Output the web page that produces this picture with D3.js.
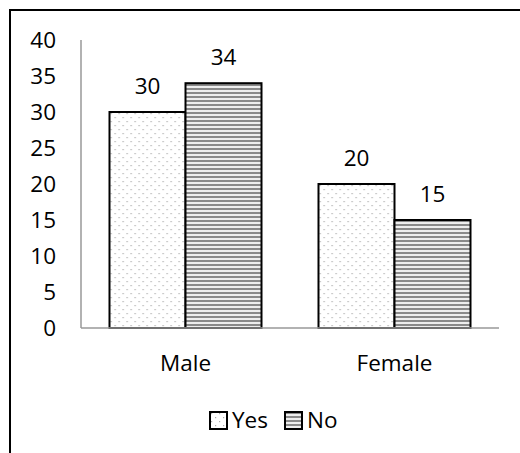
<!DOCTYPE html>
<html><head><meta charset="utf-8">
<script src="https://cdn.jsdelivr.net/npm/d3@7"></script>
<style>body{margin:0;background:#fff}svg{display:block}text{font-family:"Open Sans",Lato,sans-serif;fill:#000}</style>
</head><body><svg id="c" width="520" height="453"></svg>
<script>
const categories = ["Male", "Female"];
const seriesNames = ["Yes", "No"];
const yesValues = [30, 20];
const noValues = [34, 15];
const yTicks = [0, 5, 10, 15, 20, 25, 30, 35, 40];

const FS = 22.5;
const svg = d3.select("#c");
const defs = svg.append("defs");
const pDot = defs.append("pattern").attr("id","pYes").attr("patternUnits","userSpaceOnUse").attr("width",8).attr("height",8);
pDot.append("rect").attr("width",8).attr("height",8).attr("fill","#fff");
pDot.append("rect").attr("x",1).attr("y",1).attr("width",1.2).attr("height",1.2).attr("fill","#aaa");
pDot.append("rect").attr("x",5).attr("y",5).attr("width",1.2).attr("height",1.2).attr("fill","#aaa");
const pLine = defs.append("pattern").attr("id","pNo").attr("patternUnits","userSpaceOnUse").attr("width",4).attr("height",4);
pLine.append("rect").attr("width",4).attr("height",4).attr("fill","#eee");
pLine.append("rect").attr("y",0).attr("width",4).attr("height",2).attr("fill","#8a8a8a");

// outer frame (top and left visible)
svg.append("path").attr("d","M10,453 V10 H520").attr("fill","none").attr("stroke","#000").attr("stroke-width",2);

const x0 = d3.scaleBand().domain(categories).range([81, 499]).paddingInner(0).paddingOuter(0);
const x1 = d3.scaleBand().domain(seriesNames).range([0, 152]);
const y = d3.scaleLinear().domain([0, 40]).range([328, 40]);

// y axis
svg.append("line").attr("x1",81).attr("x2",81).attr("y1",y(40)).attr("y2",y(0)).attr("stroke","#999").attr("stroke-width",1.5);
svg.selectAll(".yt").data(yTicks).enter().append("text")
  .attr("x",56).attr("y",d=>y(d)).attr("dy","0.36em").attr("text-anchor","end")
  .attr("font-size",FS).text(d=>d);

const data = categories.map((c,i)=>({cat:c, vals:[{s:"Yes",v:yesValues[i]},{s:"No",v:noValues[i]}]}));
const g = svg.selectAll(".grp").data(data).enter().append("g")
  .attr("transform",d=>`translate(${x0(d.cat)+(x0.bandwidth()-152)/2},0)`);
g.selectAll("rect").data(d=>d.vals).enter().append("rect")
  .attr("x",d=>x1(d.s)).attr("width",x1.bandwidth())
  .attr("y",d=>y(d.v)).attr("height",d=>y(0)-y(d.v))
  .attr("fill",d=>d.s==="Yes"?"url(#pYes)":"url(#pNo)")
  .attr("stroke","#000").attr("stroke-width",2);
g.selectAll(".val").data(d=>d.vals).enter().append("text")
  .attr("x",d=>x1(d.s)+x1.bandwidth()/2).attr("y",d=>y(d.v)-18)
  .attr("text-anchor","middle").attr("font-size",FS).text(d=>d.v);

// baseline
svg.append("line").attr("x1",81).attr("x2",499).attr("y1",y(0)).attr("y2",y(0)).attr("stroke","#999").attr("stroke-width",1.5);

// category labels
svg.selectAll(".cl").data(categories).enter().append("text")
  .attr("x",d=>x0(d)+x0.bandwidth()/2).attr("y",371)
  .attr("text-anchor","middle").attr("font-size",FS).text(d=>d);

// legend
const leg = [{s:"Yes",x:210},{s:"No",x:285}];
const lg = svg.selectAll(".lg").data(leg).enter().append("g").attr("transform",d=>`translate(${d.x},412)`);
lg.append("rect").attr("width",17).attr("height",17).attr("fill",d=>d.s==="Yes"?"url(#pYes)":"url(#pNo)").attr("stroke","#000").attr("stroke-width",2);
lg.append("text").attr("x",22).attr("y",16).attr("font-size",FS).text(d=>d.s);
</script></body></html>
